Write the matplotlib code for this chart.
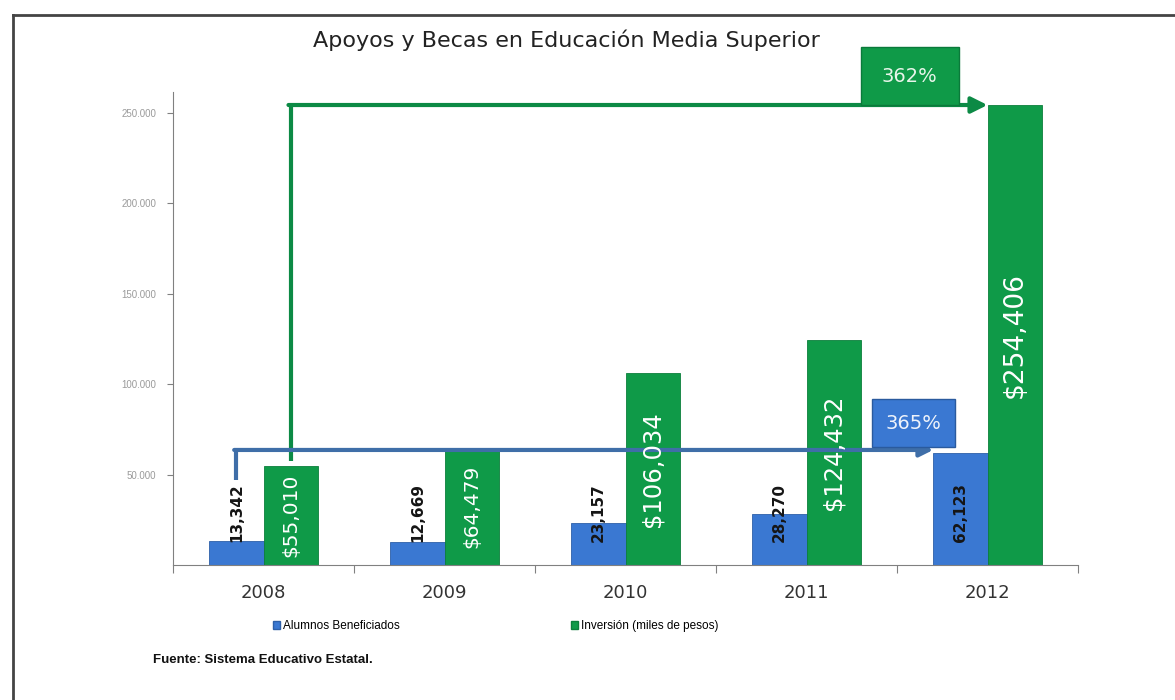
import numpy as np
import matplotlib
matplotlib.use("Agg")
import matplotlib.pyplot as plt
from matplotlib.patches import Rectangle, Patch
from matplotlib.lines import Line2D

plt.rcParams['font.family'] = ['Liberation Sans', 'DejaVu Sans']

# ---------------- data ----------------
years = ['2008', '2009', '2010', '2011', '2012']
alumnos = [13342, 12669, 23157, 28270, 62123]
inversion = [55010, 64479, 106034, 124432, 254406]
alumnos_labels = ['13,342', '12,669', '23,157', '28,270', '62,123']
inversion_labels = ['$55,010', '$64,479', '$106,034', '$124,432', '$254,406']
yticks = [50000, 100000, 150000, 200000, 250000]
growth_alumnos = '365%'
growth_inversion = '362%'

# ---------------- style ----------------
blue = '#3a78d2'
blue_line = '#3f6ea8'
green = '#0f9a48'
green_line = '#0c8a45'
w = 0.3
green_sizes = [14.5, 14.5, 17.5, 17.5, 19]

fig = plt.figure(figsize=(11.75, 7), dpi=100)
ax = fig.add_axes([173/1175, 1-565/700, (1078-173)/1175, (565-92)/700])

x = np.arange(len(years))
ax.bar(x - w/2, alumnos, w, color=blue, edgecolor='#2d5fa8', linewidth=0.6,
       label='Alumnos Beneficiados', zorder=2)
ax.bar(x + w/2, inversion, w, color=green, edgecolor='#0b7f3b', linewidth=0.6,
       label='Inversión (miles de pesos)', zorder=2)

# value labels
for i in range(len(years)):
    ax.text(x[i] - w/2, 29000, alumnos_labels[i], rotation=90, ha='center',
            va='center', fontsize=11, fontweight='bold', color='#151515',
            family='DejaVu Sans', zorder=5)
    ax.text(x[i] + w/2, inversion[i]/2, inversion_labels[i], rotation=90, ha='center',
            va='center', fontsize=green_sizes[i], color='white',
            family='DejaVu Sans', zorder=5)

# growth arrows
g_level = inversion[-1]
ax.plot([x[0] + w/2, x[0] + w/2], [inversion[0] + 2500, g_level], color=green_line,
        lw=3, solid_capstyle='butt', zorder=3)
ax.annotate('', xy=(x[-1], g_level), xytext=(x[0] + w/2 - 0.012, g_level),
            arrowprops=dict(arrowstyle='-|>', lw=3, color=green_line,
                            mutation_scale=24, shrinkA=0, shrinkB=0),
            annotation_clip=False, zorder=3)

b_level = alumnos[-1] + 1500
ax.plot([x[0] - w/2, x[0] - w/2], [47000, b_level], color=blue_line,
        lw=3, solid_capstyle='butt', zorder=4)
ax.annotate('', xy=(x[-1] - w, b_level), xytext=(x[0] - w/2 - 0.012, b_level),
            arrowprops=dict(arrowstyle='-|>', lw=3, color=blue_line,
                            mutation_scale=20, shrinkA=0, shrinkB=0),
            zorder=4)

# growth boxes
ax.add_patch(Rectangle((3.30, g_level), 0.54, 32000, facecolor=green,
                       edgecolor='#0a7a3a', lw=1, clip_on=False, zorder=4))
ax.text(3.57, g_level + 16000, growth_inversion, ha='center', va='center',
        fontsize=14, color='#e8f5ea', family='DejaVu Sans', clip_on=False, zorder=5)
ax.add_patch(Rectangle((3.36, b_level + 1500), 0.46, 26500, facecolor=blue,
                       edgecolor='#2a5a9e', lw=1, zorder=4))
ax.text(3.59, b_level + 14700, growth_alumnos, ha='center', va='center',
        fontsize=14, color='#eef3fb', family='DejaVu Sans', zorder=5)

# axes
ax.set_xlim(-0.5, len(years) - 0.5)
ax.set_ylim(0, 261600)
ax.set_xticks(np.arange(-0.5, len(years)))
ax.set_xticklabels([])
ax.set_xticks(x, minor=True)
ax.set_xticklabels(years, minor=True, fontsize=13, color='#333333',
                   family='DejaVu Sans')
ax.tick_params(axis='x', which='major', direction='out', length=6, color='#808080')
ax.tick_params(axis='x', which='minor', length=0, pad=14)
ax.set_yticks(yticks)
ax.set_yticklabels(['{:,}'.format(v).replace(',', '.') for v in yticks],
                   fontsize=7, color='#9a9a9a')
ax.tick_params(axis='y', direction='out', length=4, color='#808080', pad=8)
for s in ['top', 'right']:
    ax.spines[s].set_visible(False)
for s in ['left', 'bottom']:
    ax.spines[s].set_color('#808080')

fig.text(566/1175, 1-40/700, 'Apoyos y Becas en Educación Media Superior',
         ha='center', va='center', fontsize=16, color='#222222',
         family='DejaVu Sans')

handles = [Patch(facecolor=blue, edgecolor='#2d5fa8'),
           Patch(facecolor=green, edgecolor='#0b7f3b')]
fig.legend(handles, ['Alumnos Beneficiados', 'Inversión (miles de pesos)'],
           ncol=2, loc='center left', bbox_to_anchor=(262/1175, 1-626/700),
           frameon=False, fontsize=8.5, handlelength=0.6, handleheight=0.6,
           handletextpad=0.25, columnspacing=14.5)

fig.text(153/1175, 1-660/700, 'Fuente: Sistema Educativo Estatal.', ha='left',
         va='center', fontsize=9.5, fontweight='bold', color='#111111')

# outer frame: only top and left edges are visible in the original
fig.add_artist(Line2D([13/1175, 1.0], [1-15/700, 1-15/700],
                      transform=fig.transFigure, color='#444444', lw=2))
fig.add_artist(Line2D([13/1175, 13/1175], [0.0, 1-15/700],
                      transform=fig.transFigure, color='#444444', lw=2))

fig.savefig('out.png', dpi=100)
